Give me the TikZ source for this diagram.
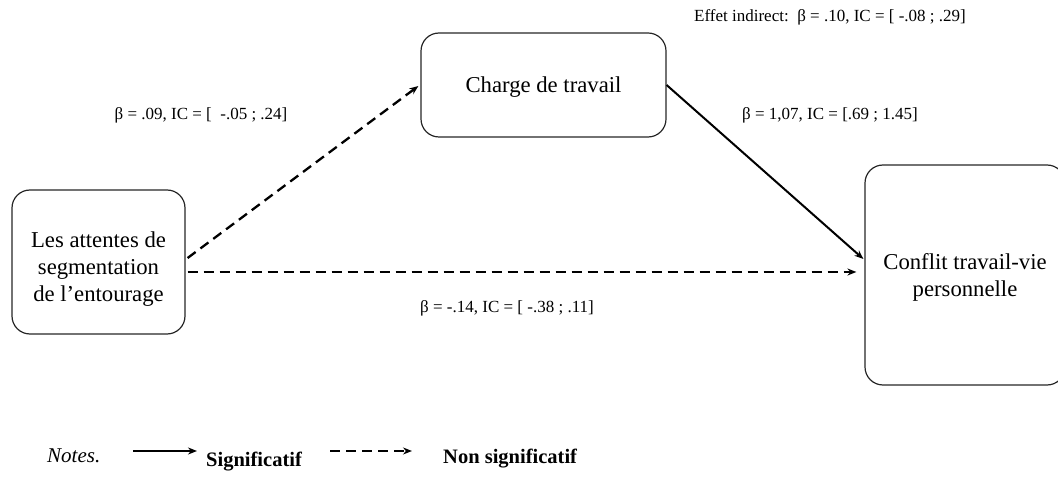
\documentclass[tikz,border=0pt]{standalone}
\usepackage{fontspec}
\setmainfont{Liberation Serif}
\usetikzlibrary{arrows.meta}
\begin{document}
\begin{tikzpicture}[x=1pt,y=-1pt,
  box/.style={draw=black!85,line width=1.2pt,rounded corners=18pt},
  boxtext/.style={align=center,inner sep=0pt,font=\fontsize{22.7}{27}\selectfont},
  lab/.style={font=\fontsize{17}{20}\selectfont,inner sep=0pt},
  sig/.style={line width=2pt,-{Stealth[length=9pt,width=7pt]}},
  nsig/.style={line width=2.3pt,dash pattern=on 10pt off 6pt,-{Stealth[length=9pt,width=7pt]}},
  leg/.style={font=\fontsize{20.5}{24}\selectfont\bfseries,inner sep=0pt,anchor=west}]
\useasboundingbox (0,0) rectangle (1058,486);
\node[box,minimum width=173pt,minimum height=144pt] (a) at (98.5,262) {};
\node[boxtext] (at) at ([yshift=-7pt]a.center) {Les attentes de\\segmentation\\de l’entourage};
\node[box,minimum width=245pt,minimum height=104pt] (m) at (543.5,85) {};
\node[boxtext] (mt) at ([yshift=-2pt]m.center) {Charge de travail};
\node[box,minimum width=200pt,minimum height=220pt] (y) at (965,275) {};
\node[boxtext] (yt) at ([yshift=-2pt]y.center) {Conflit travail-vie\\personnelle};
\draw[nsig] ([xshift=2pt,yshift=4pt]a.east) -- ([xshift=-2pt,yshift=-1pt]m.west);
\draw[sig] (m.east) -- ([xshift=-1pt,yshift=16pt]y.west);
\draw[nsig] ([xshift=2pt,yshift=-10pt]a.east) -- ([xshift=-8pt,yshift=3pt]y.west);
\node[lab] (l1) at (201,115) {β = .09, IC = [\ \ -.05 ; .24]};
\node[lab] (l2) at (830,115) {β = 1,07, IC = [.69 ; 1.45]};
\node[lab] (l3) at (507,308) {β = -.14, IC = [\ -.38 ; .11]};
\node[lab] (l4) at (830,17) {Effet indirect:\ \ β = .10, IC = [ -.08 ; .29]};
\node[font=\fontsize{21}{24}\itshape,inner sep=0pt,anchor=west] (notes) at (47,456) {Notes.};
\coordinate (s1) at (133,451);
\coordinate (s2) at (197,451);
\draw[sig,line width=1.8pt] (s1) -- (s2);
\node[leg] (sig) at (206,462) {Significatif};
\coordinate (n1) at (330,451);
\coordinate (n2) at (412,451);
\draw[nsig,line width=1.8pt] (n1) -- (n2);
\node[leg] (nsig) at (443,459) {Non significatif};
\end{tikzpicture}
\end{document}
